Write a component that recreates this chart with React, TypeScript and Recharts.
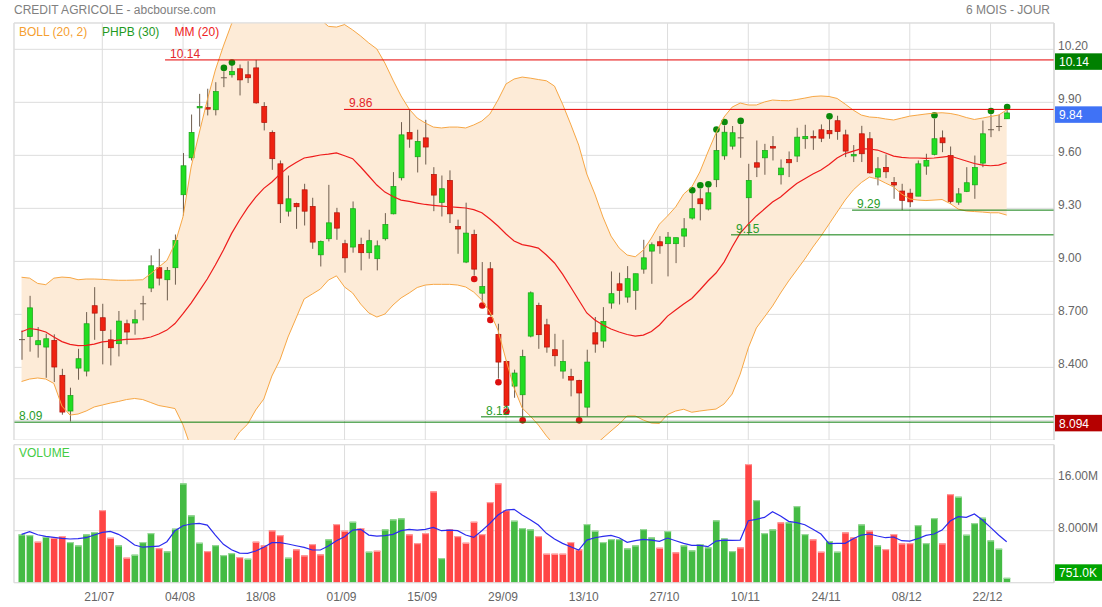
import React from "react";
import {
  ComposedChart,
  Bar,
  Line,
  Area,
  XAxis,
  YAxis,
  CartesianGrid,
  ReferenceLine,
  ReferenceDot,
} from "recharts";

const FONT = "'Liberation Sans', Arial, sans-serif";

// daily candles, 07/07 -> 24/12 (123 sessions)
const opens = [
  8.557, 8.575, 8.528, 8.515, 8.553, 8.355, 8.153, 8.396, 8.379, 8.749,
  8.681, 8.556, 8.534, 8.647, 8.651, 8.76, 8.849, 8.964, 8.896, 8.964,
  9.377, 9.586, 9.872, 9.87, 9.858, 10.039, 10.056, 10.09, 10.056, 10.095,
  9.877, 9.73, 9.552, 9.284, 9.328, 9.405, 9.311, 9.037, 9.128, 9.275,
  9.1, 9.081, 9.096, 9.049, 9.015, 9.128, 9.269, 9.473, 9.73, 9.592,
  9.699, 9.492, 9.334, 9.458, 9.198, 8.996, 9.152, 8.82, 8.958, 8.587,
  8.434, 8.294, 8.245, 8.577, 8.751, 8.641, 8.5, 8.379, 8.349, 8.326,
  8.175, 8.596, 8.549, 8.764, 8.873, 8.798, 8.836, 8.956, 9.058, 9.111,
  9.1, 9.1, 9.143, 9.245, 9.354, 9.296, 9.462, 9.597, 9.652, 9.699,
  9.36, 9.558, 9.586, 9.65, 9.49, 9.577, 9.596, 9.694, 9.707, 9.745,
  9.741, 9.796, 9.716, 9.597, 9.722, 9.694, 9.477, 9.532, 9.447, 9.398,
  9.386, 9.369, 9.539, 9.605, 9.699, 9.599, 9.335, 9.396, 9.433, 9.556,
  9.745, 9.763, 9.807,
];
const highs = [
  8.609, 8.805, 8.628, 8.59, 8.587, 8.392, 8.285, 8.505, 8.713, 8.854,
  8.76, 8.613, 8.719, 8.67, 8.726, 8.805, 9.034, 9.071, 8.968, 9.152,
  9.613, 9.831, 9.948, 9.977, 10.014, 10.075, 10.105, 10.114, 10.133, 10.14,
  9.901, 9.741, 9.571, 9.486, 9.332, 9.439, 9.36, 9.118, 9.433, 9.303,
  9.122, 9.339, 9.134, 9.179, 9.118, 9.273, 9.505, 9.788, 9.86, 9.745,
  9.801, 9.533, 9.486, 9.515, 9.236, 9.332, 9.179, 8.996, 8.996, 8.647,
  8.439, 8.387, 8.5, 8.83, 8.766, 8.675, 8.59, 8.556, 8.392, 8.33,
  8.5, 8.685, 8.741, 8.943, 8.936, 8.973, 8.93, 9.122, 9.107, 9.143,
  9.166, 9.134, 9.245, 9.382, 9.411, 9.416, 9.726, 9.769, 9.766, 9.775,
  9.552, 9.684, 9.665, 9.709, 9.577, 9.622, 9.756, 9.773, 9.741, 9.775,
  9.801, 9.824, 9.745, 9.658, 9.767, 9.732, 9.59, 9.605, 9.477, 9.439,
  9.411, 9.571, 9.609, 9.807, 9.741, 9.65, 9.415, 9.533, 9.599, 9.797,
  9.831, 9.831, 9.854,
];
const lows = [
  8.443, 8.489, 8.455, 8.341, 8.317, 8.132, 8.094, 8.33, 8.349, 8.556,
  8.417, 8.411, 8.462, 8.53, 8.585, 8.666, 8.826, 8.864, 8.779, 8.868,
  9.26, 9.571, 9.763, 9.826, 9.826, 9.986, 10.04, 9.939, 10.009, 9.892,
  9.741, 9.518, 9.217, 9.254, 9.184, 9.203, 9.071, 8.971, 9.113, 9.122,
  8.936, 9.049, 8.949, 9.015, 8.949, 9.118, 9.266, 9.458, 9.643, 9.503,
  9.548, 9.284, 9.254, 9.217, 9.043, 8.99, 8.92, 8.77, 8.688, 8.336,
  8.17, 8.228, 8.12, 8.57, 8.505, 8.483, 8.406, 8.336, 8.236, 8.12,
  8.123, 8.483, 8.511, 8.732, 8.756, 8.766, 8.726, 8.93, 8.873, 9.043,
  8.915, 8.99, 9.081, 9.236, 9.232, 9.288, 9.42, 9.575, 9.633, 9.586,
  9.15, 9.477, 9.49, 9.571, 9.435, 9.477, 9.562, 9.637, 9.631, 9.675,
  9.694, 9.688, 9.59, 9.562, 9.562, 9.496, 9.43, 9.471, 9.354, 9.29,
  9.307, 9.369, 9.49, 9.6, 9.618, 9.326, 9.32, 9.392, 9.354, 9.533,
  9.703, 9.737, 9.807,
];
const closes = [
  8.557, 8.737, 8.551, 8.562, 8.402, 8.147, 8.241, 8.449, 8.647, 8.707,
  8.609, 8.511, 8.662, 8.6, 8.67, 8.76, 8.975, 8.905, 8.949, 9.118,
  9.541, 9.73, 9.877, 9.865, 9.961, 10.039, 10.075, 10.027, 10.039, 9.897,
  9.786, 9.581, 9.326, 9.354, 9.309, 9.284, 9.109, 9.113, 9.218, 9.188,
  9.02, 9.298, 9.049, 9.117, 9.088, 9.209, 9.424, 9.716, 9.692, 9.679,
  9.647, 9.375, 9.411, 9.269, 9.183, 9.16, 8.956, 8.858, 8.7, 8.43,
  8.185, 8.368, 8.462, 8.822, 8.585, 8.515, 8.466, 8.434, 8.328, 8.255,
  8.43, 8.532, 8.66, 8.817, 8.836, 8.902, 8.93, 9.02, 9.094, 9.088,
  9.137, 9.134, 9.184, 9.298, 9.326, 9.388, 9.628, 9.731, 9.728, 9.699,
  9.458, 9.533, 9.628, 9.641, 9.528, 9.558, 9.703, 9.707, 9.699, 9.697,
  9.722, 9.735, 9.624, 9.605, 9.609, 9.501, 9.524, 9.507, 9.432, 9.345,
  9.337, 9.552, 9.571, 9.694, 9.671, 9.339, 9.382, 9.445, 9.531, 9.722,
  9.745, 9.763, 9.84,
];

// BOLL (20, 2) and MM (20)
const bollUpper = [
  8.91, 8.905, 8.875, 8.868, 8.905, 8.911, 8.908, 8.896, 8.9, 8.9,
  8.898, 8.895, 8.893, 8.893, 8.894, 8.896, 8.93, 8.968, 9.005, 9.1,
  9.253, 9.534, 9.726, 9.913, 10.083, 10.219, 10.343, 10.42, 10.48, 10.52,
  10.55, 10.56, 10.56, 10.55, 10.53, 10.5, 10.44, 10.37, 10.33, 10.326,
  10.34, 10.31, 10.275, 10.236, 10.202, 10.122, 10.026, 9.936, 9.862, 9.811,
  9.783, 9.76, 9.755, 9.76, 9.76, 9.755, 9.772, 9.794, 9.834, 9.913,
  10.004, 10.032, 10.043, 10.037, 10.029, 10.022, 9.992, 9.89, 9.777, 9.658,
  9.494, 9.381, 9.251, 9.143, 9.076, 9.036, 9.026, 9.064, 9.132, 9.211,
  9.257, 9.308, 9.381, 9.421, 9.506, 9.619, 9.726, 9.817, 9.873, 9.896,
  9.885, 9.885, 9.902, 9.913, 9.91, 9.909, 9.916, 9.924, 9.933, 9.936,
  9.933, 9.922, 9.89, 9.856, 9.828, 9.817, 9.814, 9.806, 9.8, 9.811,
  9.822, 9.828, 9.834, 9.839, 9.841, 9.837, 9.828, 9.814, 9.803, 9.811,
  9.82, 9.828, 9.857,
];
const bollLower = [
  8.32, 8.334, 8.34, 8.334, 8.309, 8.181, 8.13, 8.136, 8.153, 8.176,
  8.187, 8.198, 8.207, 8.218, 8.224, 8.218, 8.201, 8.184, 8.176, 8.167,
  8.074, 7.944, 7.87, 7.83, 7.82, 7.86, 7.966, 8.034, 8.079, 8.159,
  8.221, 8.351, 8.442, 8.572, 8.679, 8.787, 8.815, 8.843, 8.894, 8.918,
  8.855, 8.821, 8.758, 8.708, 8.685, 8.702, 8.753, 8.793, 8.821, 8.852,
  8.866, 8.87, 8.87, 8.87, 8.866, 8.855, 8.826, 8.781, 8.713, 8.611,
  8.442, 8.283, 8.17, 8.125, 8.074, 8.012, 7.96, 7.92, 7.9, 7.9,
  7.92, 7.96, 8.0, 8.04, 8.079, 8.125, 8.125, 8.102, 8.085, 8.083,
  8.133, 8.153, 8.163, 8.146, 8.153, 8.159, 8.164, 8.193, 8.249, 8.362,
  8.51, 8.623, 8.685, 8.747, 8.821, 8.889, 8.951, 9.013, 9.081, 9.143,
  9.211, 9.279, 9.347, 9.404, 9.446, 9.477, 9.466, 9.443, 9.421, 9.381,
  9.353, 9.347, 9.344, 9.347, 9.35, 9.327, 9.296, 9.285, 9.282, 9.279,
  9.275, 9.275, 9.262,
];
const mm20 = [
  8.602, 8.62, 8.614, 8.6, 8.572, 8.546, 8.53, 8.523, 8.525, 8.532,
  8.544, 8.549, 8.554, 8.558, 8.56, 8.563, 8.572, 8.589, 8.611, 8.648,
  8.704, 8.764, 8.832, 8.9, 8.979, 9.064, 9.157, 9.234, 9.304, 9.364,
  9.413, 9.449, 9.494, 9.531, 9.559, 9.585, 9.593, 9.602, 9.607, 9.614,
  9.598, 9.581, 9.534, 9.483, 9.432, 9.392, 9.367, 9.347, 9.339, 9.33,
  9.322, 9.317, 9.313, 9.309, 9.306, 9.302, 9.293, 9.275, 9.24, 9.2,
  9.155, 9.115, 9.095, 9.086, 9.075, 9.036, 8.991, 8.928, 8.855, 8.781,
  8.708, 8.668, 8.64, 8.617, 8.6, 8.586, 8.577, 8.583, 8.603, 8.64,
  8.69, 8.725, 8.759, 8.79, 8.838, 8.889, 8.934, 8.996, 9.081, 9.16,
  9.211, 9.257, 9.296, 9.336, 9.364, 9.404, 9.441, 9.468, 9.494, 9.517,
  9.548, 9.585, 9.61, 9.624, 9.638, 9.636, 9.63, 9.613, 9.596, 9.588,
  9.585, 9.585, 9.583, 9.585, 9.59, 9.596, 9.582, 9.568, 9.554, 9.545,
  9.541, 9.545, 9.558,
];

// volumes in millions, G = close up vs previous close
const volumes = [
  7.44, 7.33, 6.31, 7.08, 6.92, 7.18, 6.26, 5.74, 7.44, 7.79,
  11.18, 6.92, 5.74, 3.85, 4.31, 6.26, 7.64, 5.33, 4.82, 8.31,
  15.28, 10.36, 6.15, 4.87, 5.79, 4.26, 4.56, 3.95, 3.69, 6.31,
  5.74, 8.05, 7.33, 3.85, 5.13, 4.2, 5.95, 4.36, 6.67, 9.03,
  8.0, 9.38, 8.41, 4.77, 4.92, 8.21, 9.74, 9.9, 7.44, 6.1,
  7.64, 14.05, 3.79, 8.21, 7.18, 6.15, 9.38, 7.49, 12.41, 15.28,
  11.18, 9.54, 8.41, 8.21, 7.18, 4.46, 4.46, 4.46, 6.26, 5.13,
  9.03, 8.0, 6.26, 6.72, 6.72, 5.28, 5.74, 8.26, 6.97, 5.38,
  7.95, 4.67, 5.74, 4.97, 5.95, 5.44, 9.59, 6.82, 4.87, 5.44,
  18.26, 12.72, 7.64, 8.21, 9.28, 9.28, 11.79, 7.49, 6.67, 4.77,
  6.41, 4.77, 7.74, 6.97, 8.97, 8.0, 5.74, 5.18, 7.49, 6.05,
  6.1, 8.87, 6.1, 9.95, 6.05, 13.64, 13.23, 7.38, 9.18, 10.0,
  6.51, 5.23, 0.751,
];
const volumeDir =
  "GGRGRRGGGG" + "RRGRGGGRGG" + "GGGRGGGRGR" + "RRRGRRRRGR" + "RGRGRGGGRR" +
  "RRGRRRRRRR" + "RGGGRRRRRR" + "GGGGGGGGGR" + "GRGGGGGGGR" + "RGGGRGGGRR" +
  "GGRRGRGRRR" + "RGGGRRGGGG" + "GGG";
const volumeMa = [
  7.44, 7.85, 7.38, 7.13, 6.97, 6.82, 6.72, 6.77, 6.92, 7.33,
  7.74, 7.9, 7.44, 6.72, 5.79, 5.46, 5.54, 5.62, 6.31, 8.0,
  8.77, 9.03, 9.13, 8.87, 7.33, 5.9, 5.08, 4.56, 4.51, 4.87,
  5.44, 6.15, 6.15, 5.95, 5.69, 5.44, 5.03, 5.03, 5.64, 6.46,
  7.08, 8.1, 8.21, 7.33, 7.18, 7.23, 7.44, 8.0, 8.21, 8.1,
  8.21, 8.51, 8.0, 8.1, 8.0, 7.33, 6.97, 8.0, 9.13, 10.41,
  11.18, 11.28, 10.41, 9.7, 8.87, 7.59, 6.72, 6.05, 5.54, 5.03,
  6.56, 6.92, 7.13, 7.28, 6.92, 6.21, 6.46, 6.67, 6.56, 6.36,
  6.87, 6.46, 6.05, 5.74, 5.74, 5.54, 6.41, 6.56, 6.51, 6.56,
  9.54, 9.74, 10.05, 10.92, 10.26, 9.44, 9.23, 8.92, 8.21, 7.49,
  6.0, 6.05, 6.05, 6.77, 7.33, 7.49, 7.18, 6.92, 7.03, 6.46,
  6.41, 6.77, 7.28, 7.49, 8.1, 9.49, 10.15, 10.05, 10.56, 9.64,
  8.51, 7.33, 6.3,
];

// PHPB (30) signal sessions
const highSignals = [25, 26, 83, 84, 85, 86, 87, 89, 100, 113, 120, 122];
const lowSignals = [56, 57, 58, 59, 60, 62, 69];

// support / resistance levels and the session where each line starts
const levelValues = [10.14, 9.86, 8.09, 8.12, 9.15, 9.29];
const levelStarts = [17.77, 39.93, -0.935, 56.9, 87.86, 102.85];
const levelIsResistance = [true, true, false, false, false, false];

const dateTicks = [10, 20, 30, 40, 50, 60, 70, 80, 90, 100, 110, 120];
const dateLabels = ["21/07", "04/08", "18/08", "01/09", "15/09", "29/09", "13/10", "27/10", "10/11", "24/11", "08/12", "22/12"];
// lowest labels (8.100 and 0) sit under the value tags, so they stay blank
const priceTicks = [8.1, 8.4, 8.7, 9.0, 9.3, 9.6, 9.9, 10.2];
const priceTickLabels = ["", "8.400", "8.700", "9.00", "9.30", "9.60", "9.90", "10.20"];
const volumeTicks = [0, 8, 16];
const volumeTickLabels = ["", "8.000M", "16.00M"];

const X_DOMAIN: [number, number] = [-0.935, 127.86];

const rows = opens.map((open, i) => ({
  i,
  open,
  close: closes[i],
  high: highs[i],
  low: lows[i],
  hl: [lows[i], highs[i]],
  band: [bollLower[i], bollUpper[i]],
  upper: bollUpper[i],
  lower: bollLower[i],
  ma: mm20[i],
  vol: volumes[i],
  volMa: volumeMa[i],
  volUp: volumeDir[i] === "G",
  sigUp: highSignals.includes(i),
  sigDn: lowSignals.includes(i),
}));

const WICK = "#6e5d4e";

const Candle = (props: any) => {
  const { x, y, width, height, payload } = props;
  if (!payload) return null;
  const { open, close, high, low } = payload;
  const cx = x + width / 2;
  const span = high - low;
  const py = (v: number) => (span > 0 ? y + ((high - v) / span) * height : y);
  const top = py(Math.max(open, close));
  const bot = py(Math.min(open, close));
  const up = close > open;
  return (
    <g>
      <line x1={cx} x2={cx} y1={y} y2={y + height} stroke={WICK} strokeWidth={1} />
      {open === close ? (
        <line x1={cx - 3} x2={cx + 3} y1={top} y2={top} stroke={WICK} strokeWidth={1} />
      ) : (
        <rect
          x={cx - 2.5}
          y={top}
          width={5}
          height={Math.max(bot - top, 1.5)}
          fill={up ? "#22dd22" : "#ee2211"}
          stroke={up ? "#17a317" : "#b01208"}
          strokeWidth={0.7}
        />
      )}
      {payload.sigUp && <circle cx={cx} cy={y - 3.5} r={3.3} fill="#0a8a0a" />}
      {payload.sigDn && <circle cx={cx} cy={y + height + 3.5} r={3.3} fill="#dd1010" />}
    </g>
  );
};

const VolBar = (props: any) => {
  const { x, y, width, height, payload } = props;
  if (!payload || !(height > 0)) return null;
  const up = payload.volUp;
  return (
    <g>
      <rect x={x} y={y} width={width} height={height} fill={up ? "#44bb44" : "#ff4545"} />
      <rect x={x} y={y} width={width} height={1.2} fill={up ? "#9bd99b" : "#ffa0a0"} />
    </g>
  );
};

const tickLabel = (ticks: number[], labels: string[], v: number) => {
  const k = ticks.findIndex((t) => Math.abs(t - v) < 1e-6);
  return k >= 0 ? labels[k] : "";
};

const PriceTick = (props: any) => (
  <text x={props.x + 4} y={props.y + 1} fill="#666" fontSize={12} fontFamily={FONT}>
    {tickLabel(priceTicks, priceTickLabels, props.payload.value)}
  </text>
);

const VolumeTick = (props: any) => (
  <text x={props.x + 4} y={props.y + 1.5} fill="#666" fontSize={12} fontFamily={FONT}>
    {tickLabel(volumeTicks, volumeTickLabels, props.payload.value)}
  </text>
);

const DateTick = (props: any) => (
  <text x={props.x - 3} y={props.y + 18} fill="#666" fontSize={12} fontFamily={FONT} textAnchor="middle">
    {tickLabel(dateTicks, dateLabels, props.payload.value)}
  </text>
);

const tag = (text: string, color: string, dy: number) => (p: any) => (
  <g>
    <rect x={p.cx + 1} y={p.cy + dy} width={47} height={16.5} fill={color} />
    <text x={p.cx + 5} y={p.cy + dy + 12.8} fill="#fff" fontSize={12} fontFamily={FONT}>
      {text}
    </text>
  </g>
);

const levelLabel = (text: string, color: string) => (p: any) => {
  const vb = p.viewBox || {};
  return (
    <text x={vb.x + 5} y={vb.y - 2} fill={color} fontSize={12} fontFamily={FONT}>
      {text}
    </text>
  );
};

const maxHigh = Math.max(...highs);
const minLow = Math.min(...lows);
const lastClose = closes[closes.length - 1];
const lastVolume = volumes[volumes.length - 1];

export default function App() {
  return (
    <div
      style={{
        position: "absolute",
        left: 0,
        top: 0,
        width: 1102,
        height: 607,
        background: "#fff",
        overflow: "hidden",
        fontFamily: FONT,
      }}
    >
      <div style={{ position: "absolute", left: 0, top: 0 }}>
        <ComposedChart width={1102} height={440} data={rows} margin={{ top: 23, right: 0, bottom: 0, left: 14 }}>
          <CartesianGrid stroke="#dddddd" />
          <XAxis dataKey="i" type="number" domain={X_DOMAIN} ticks={dateTicks} allowDataOverflow hide />
          <YAxis
            orientation="right"
            width={48}
            domain={[7.989, 10.349]}
            ticks={priceTicks}
            allowDataOverflow
            axisLine={{ stroke: "#cccccc" }}
            tickLine={false}
            tickSize={0}
            tickMargin={0}
            tick={<PriceTick />}
          />
          <Area dataKey="band" fill="#fdebd7" fillOpacity={1} stroke="none" isAnimationActive={false} />
          <Line dataKey="upper" stroke="#f7a745" strokeWidth={1} dot={false} isAnimationActive={false} />
          <Line dataKey="lower" stroke="#f7a745" strokeWidth={1} dot={false} isAnimationActive={false} />
          <Line dataKey="ma" stroke="#ee1c1c" strokeWidth={1.2} dot={false} isAnimationActive={false} />
          {levelValues.map((v, k) => (
            <ReferenceLine
              key={k}
              segment={[
                { x: levelStarts[k], y: v },
                { x: X_DOMAIN[1], y: v },
              ]}
              stroke={levelIsResistance[k] ? "#e60000" : "#0a7d0a"}
              strokeWidth={1}
              ifOverflow="visible"
              label={levelLabel(v.toFixed(2), levelIsResistance[k] ? "#e3262b" : "#2a9d2a")}
            />
          ))}
          <Bar dataKey="hl" barSize={5} shape={<Candle />} isAnimationActive={false} />
          <ReferenceDot x={X_DOMAIN[1]} y={maxHigh} ifOverflow="visible" shape={tag(maxHigh.toFixed(2), "#008000", -6.6)} />
          <ReferenceDot x={X_DOMAIN[1]} y={lastClose} ifOverflow="visible" shape={tag(lastClose.toFixed(2), "#3f72f6", -6.6)} />
          <ReferenceDot x={X_DOMAIN[1]} y={minLow} ifOverflow="visible" shape={tag(minLow.toFixed(3), "#b50000", -6.6)} />
        </ComposedChart>
      </div>

      <div style={{ position: "absolute", left: 0, top: 440 }}>
        <ComposedChart width={1102} height={167} data={rows} margin={{ top: 4.7, right: 0, bottom: 0, left: 14 }}>
          <CartesianGrid stroke="#dddddd" />
          <XAxis
            dataKey="i"
            type="number"
            domain={X_DOMAIN}
            ticks={dateTicks}
            allowDataOverflow
            height={24.3}
            axisLine={{ stroke: "#dddddd" }}
            tickLine={false}
            tickSize={0}
            tickMargin={0}
            tick={<DateTick />}
          />
          <YAxis
            orientation="right"
            width={48}
            domain={[0, 21.23]}
            ticks={volumeTicks}
            allowDataOverflow
            axisLine={{ stroke: "#cccccc" }}
            tickLine={false}
            tickSize={0}
            tickMargin={0}
            tick={<VolumeTick />}
          />
          <Bar dataKey="vol" barSize={6.6} shape={<VolBar />} isAnimationActive={false} />
          <Line dataKey="volMa" stroke="#2b2bee" strokeWidth={1.2} dot={false} isAnimationActive={false} />
          <ReferenceDot
            x={X_DOMAIN[1]}
            y={lastVolume}
            ifOverflow="visible"
            shape={tag((lastVolume * 1000).toFixed(1) + "K", "#00a300", -13.5)}
          />
        </ComposedChart>
      </div>

      <svg width={1102} height={607} style={{ position: "absolute", left: 0, top: 0, pointerEvents: "none" }}>
        <line x1={14} x2={1054} y1={23} y2={23} stroke="#dddddd" />
        <line x1={14} x2={14} y1={23} y2={440} stroke="#dddddd" />
        <line x1={14} x2={1054} y1={444.7} y2={444.7} stroke="#dddddd" />
        <line x1={14} x2={14} y1={444.7} y2={582.7} stroke="#dddddd" />
        <text x={14} y={13.5} fill="#808080" fontSize={12} fontFamily={FONT}>
          CREDIT AGRICOLE - abcbourse.com
        </text>
        <text x={1050} y={13.5} fill="#808080" fontSize={12} fontFamily={FONT} textAnchor="end">
          6 MOIS - JOUR
        </text>
        <text x={19} y={36} fill="#f5a030" fontSize={12} fontFamily={FONT}>
          BOLL (20, 2)
        </text>
        <text x={102} y={36} fill="#1f9a1f" fontSize={12} fontFamily={FONT}>
          PHPB (30)
        </text>
        <text x={174.5} y={36} fill="#ee2222" fontSize={12} fontFamily={FONT}>
          MM (20)
        </text>
        <text x={19} y={457} fill="#44cc44" fontSize={12} fontFamily={FONT}>
          VOLUME
        </text>
      </svg>
    </div>
  );
}
